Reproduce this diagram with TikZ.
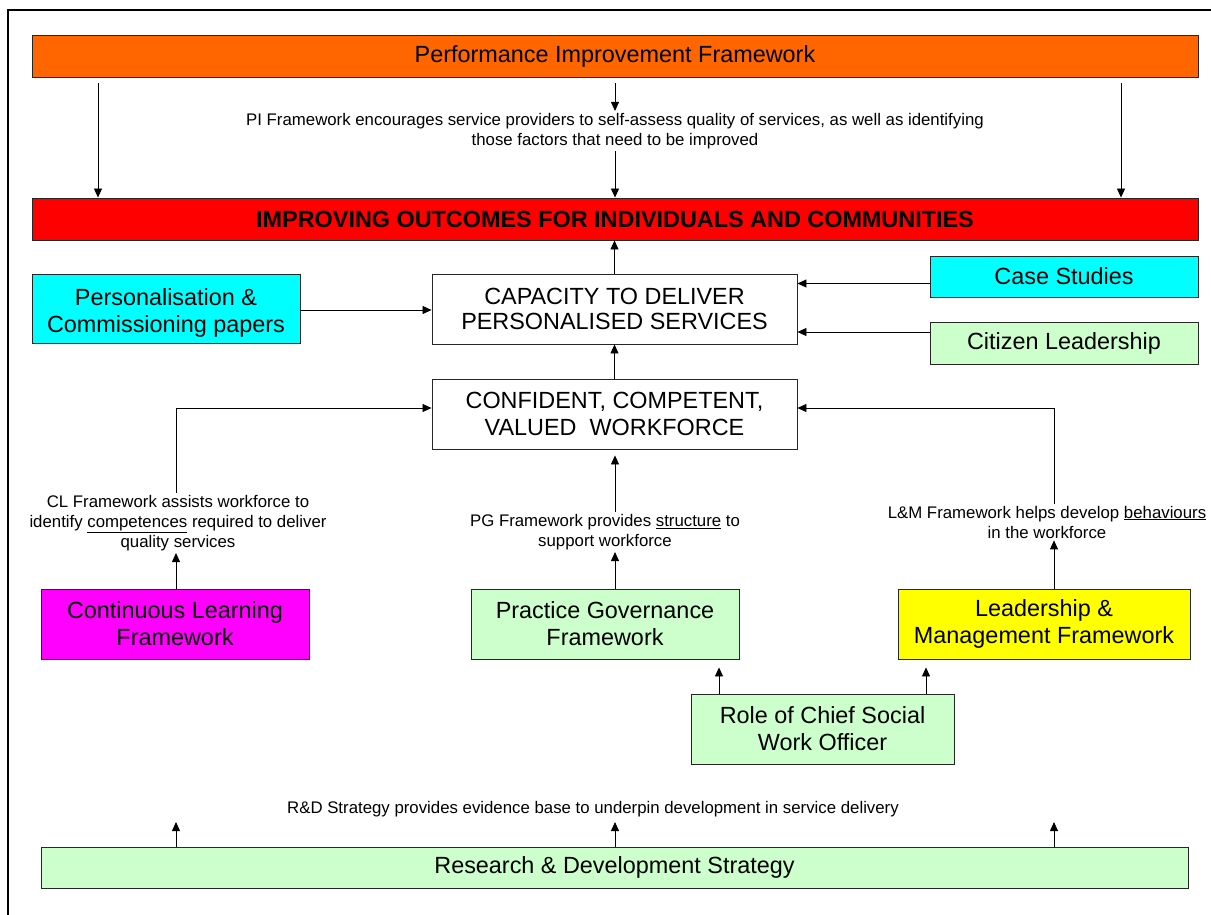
\documentclass[tikz,border=0pt]{standalone}
\usepackage{fontspec}
\setmainfont{Liberation Sans}
\usepackage{xcolor}
\usetikzlibrary{arrows.meta}

\definecolor{pifOrange}{HTML}{FF6600}
\definecolor{outRed}{HTML}{FF0000}
\definecolor{boxCyan}{HTML}{00FFFF}
\definecolor{boxGreen}{HTML}{CCFFCC}
\definecolor{boxMagenta}{HTML}{FF00FF}
\definecolor{boxYellow}{HTML}{FFFF00}

\tikzset{
  fbox/.style={draw=black!85, line width=0.9pt, align=center, inner sep=0pt,
    font=\fontsize{23.4}{27}\selectfont},
  note/.style={align=center, inner sep=2pt, font=\fontsize{16.8}{20}\selectfont},
  arr/.style={-{Triangle[length=9pt,width=8pt]}, line width=0.8pt},
}

\begin{document}
\begin{tikzpicture}[x=1pt,y=-1pt]
% box width & box height
\newcommand{\bwd}{268}
\newcommand{\bht}{70}
% full width of the banners
\newcommand{\fwd}{1166}

\useasboundingbox (0,0) rectangle (1211,915);
\draw[line width=2pt] (8,930) -- (8,10) -- (1230,10);

% Banners
\node[fbox, fill=pifOrange, minimum width=\fwd, minimum height=42] (pif) at (615,56) {Performance Improvement Framework};
\node[fbox, fill=outRed, minimum width=\fwd, minimum height=42, font=\fontsize{23.4}{27}\bfseries] (outc) at (615,219) {IMPROVING OUTCOMES FOR INDIVIDUALS AND COMMUNITIES};
\node[note] (pitxt) at (615,131) {PI Framework encourages service providers to self-assess quality of services, as well as identifying\\those factors that need to be improved};

% Column positions
\coordinate (colL) at (98,0);
\coordinate (colR) at (1121,0);
\coordinate (colA) at (176,0);
\coordinate (colB) at (615,0);
\coordinate (colC) at (1054,0);

\draw[arr, shorten <=6pt] (pif.south -| colL) -- (outc.north -| colL);
\draw[arr, shorten <=6pt] (pif.south -| colR) -- (outc.north -| colR);
\draw[arr, shorten <=6pt] (pif.south -| colB) -- (pitxt.north -| colB);
\draw[arr] (pitxt.south -| colB) -- (outc.north -| colB);

% Centre boxes
\node[fbox, fill=white, minimum width=365, minimum height=\bht, font=\fontsize{23.4}{24.5}\selectfont] (cap) at (614.5,309) {CAPACITY TO DELIVER\\PERSONALISED SERVICES};
\node[fbox, fill=white, minimum width=365, minimum height=\bht, font=\fontsize{23.4}{27}\selectfont] (conf) at (614.5,414) {CONFIDENT, COMPETENT,\\VALUED\ \ WORKFORCE};
\draw[arr] (cap.north) -- (outc.south -| cap.north);
\draw[arr] (conf.north) -- (cap.south);

% Side inputs
\node[fbox, fill=boxCyan, minimum width=\bwd, minimum height=69] (pers) at (166,308.5) {\raisebox{-11pt}[0pt][0pt]{\begin{tabular}{@{}c@{}}Personalisation \&\\Commissioning papers\end{tabular}}};
\node[fbox, fill=boxCyan, minimum width=\bwd, minimum height=41] (case) at (1064,276.5) {Case Studies};
\node[fbox, fill=boxGreen, minimum width=\bwd, minimum height=42] (citz) at (1064,343) {Citizen Leadership};
\draw[arr] ([yshift=-1.5pt]pers.east) -- ([yshift=-1.5pt]pers.east -| cap.west);
\draw[arr] ([yshift=-7pt]case.west) -- ([yshift=-7pt]case.west -| cap.east);
\draw[arr] ([yshift=11pt]citz.west) -- ([yshift=11pt]citz.west -| cap.east);

% Frameworks
\node[fbox, fill=boxMagenta, minimum width=\bwd, minimum height=\bht] (clf) at (175,624) {Continuous Learning\\Framework};
\node[fbox, fill=boxGreen, minimum width=\bwd, minimum height=\bht] (pgf) at (605,624) {Practice Governance\\Framework};
\node[fbox, fill=boxYellow, minimum width=292, minimum height=\bht] (lmf) at (1044,624) {Leadership \&\\Management Framework};
\node[fbox, fill=boxGreen, minimum width=263, minimum height=\bht] (role) at (822.5,729) {Role of Chief Social\\Work Officer};

\node[note] (cltxt) at (178,523) {CL Framework assists workforce to\\identify \underline{competences} required to deliver\\quality services};
\node[note] (pgtxt) at (605,532) {PG Framework provides \underline{structure} to\\support workforce};
\node[note] (lmtxt) at (1047,522) {L\&M Framework helps develop \underline{behaviours}\\in the workforce};

\draw[arr] (clf.north -| colA) -- (cltxt.south -| colA);
\draw[arr] (cltxt.north -| colA) |- ([yshift=6pt]conf.west);
\draw[arr] (pgf.north -| colB) -- (pgtxt.south -| colB);
\draw[arr, shorten >=6pt] (pgtxt.north -| colB) -- (conf.south -| colB);
\draw[arr] (lmf.north -| colC) -- (lmtxt.south -| colC);
\draw[arr] (lmtxt.north -| colC) |- ([yshift=6pt]conf.east);

\coordinate (roleL) at (719,0);
\coordinate (roleR) at (926,0);
\draw[arr, shorten >=8pt] (role.north -| roleL) -- (pgf.south -| roleL);
\draw[arr, shorten >=8pt] (role.north -| roleR) -- (lmf.south -| roleR);

% Research
\node[fbox, fill=boxGreen, minimum width=1147, minimum height=41] (rds) at (614.5,867.5) {Research \& Development Strategy};
\node[note] (rdtxt) at (593,809) {R\&D Strategy provides evidence base to underpin development in service delivery};
\foreach \c in {colA,colB,colC}
  \draw[arr, shorten >=3pt] (rds.north -| \c) -- (rdtxt.south -| \c);
\end{tikzpicture}
\end{document}
